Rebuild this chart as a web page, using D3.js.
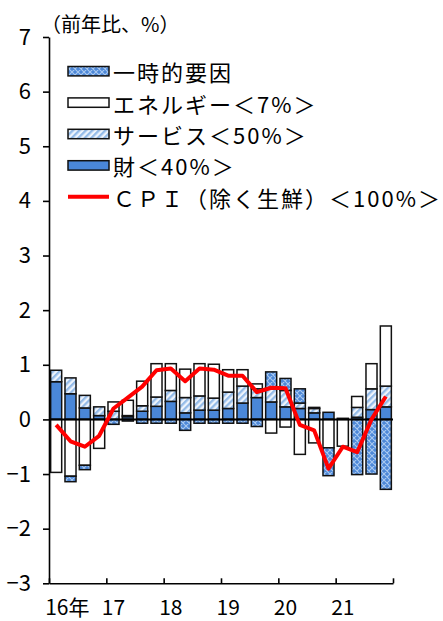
<!DOCTYPE html>
<html><head><meta charset="utf-8">
<script src="https://cdn.jsdelivr.net/npm/d3@7"></script>
<style>
html,body{margin:0;padding:0;background:#fff;}
text{font-family:"Noto Sans CJK JP","Noto Sans",sans-serif;fill:#000;}
</style></head>
<body><svg id="c" width="443" height="621"></svg>
<script>
const quarters = ["16Q1","16Q2","16Q3","16Q4","17Q1","17Q2","17Q3","17Q4","18Q1","18Q2","18Q3","18Q4","19Q1","19Q2","19Q3","19Q4","20Q1","20Q2","20Q3","20Q4","21Q1","21Q2","21Q3","21Q4"];
const yearLabels = ["16年","17","18","19","20","21"];
const goods    = [0.69,0.47,0.21,0.07, 0.00,0.05,0.15,0.24, 0.33,0.12,0.17,0.17, 0.20,0.30,0.40,0.32, 0.23,0.20,0.12,0.13, 0.02,0.04,0.18,0.23];
const services = [0.21,0.29,0.23,0.16, 0.15,0.02,0.10,0.17, 0.20,0.28,0.26,0.22, 0.30,0.31,0.16,0.26, 0.30,0.10,0.08,0.00, 0.00,0.18,0.38,0.38];
const energy   = [-0.97,-1.04,-0.84,-0.53, 0.17,0.28,0.45,0.61, 0.49,0.52,0.59,0.62, 0.41,0.30,0.09,-0.25, -0.14,-0.64,-0.43,-0.52, -0.49,0.20,0.46,1.10];
const temp     = [0.00,-0.10,-0.08,0.00, -0.09,-0.03,-0.07,-0.07, -0.07,-0.20,-0.07,-0.07, -0.07,-0.07,-0.13,0.29, 0.22,0.26,0.02,-0.51, 0.00,-1.01,-1.00,-1.28];
const cpi      = [-0.1,-0.4,-0.5,-0.3, 0.2,0.4,0.6,0.9, 0.93,0.7,0.93,0.91, 0.8,0.8,0.5,0.58, 0.57,-0.1,-0.2,-0.9, -0.5,-0.6,0.0,0.42];
const yTicks = [-3,-2,-1,0,1,2,3,4,5,6,7];
const seriesKeys = ["goods","services","energy","temp"];
const legendLabels = ["一時的要因","エネルギー＜7%＞","サービス＜50%＞","財＜40%＞","ＣＰＩ（除く生鮮）＜100%＞"];
const legendKeys = ["temp","energy","services","goods","cpi"];

const svg = d3.select("#c");
const defs = svg.append("defs");
const ps = defs.append("pattern").attr("id","pSvc").attr("patternUnits","userSpaceOnUse")
  .attr("width",4.6).attr("height",4.6).attr("patternTransform","rotate(45)");
ps.append("rect").attr("width",4.6).attr("height",4.6).attr("fill","#eef4fc");
ps.append("rect").attr("width",2.3).attr("height",4.6).attr("fill","#94bbe8");
const pt = defs.append("pattern").attr("id","pTmp").attr("patternUnits","userSpaceOnUse")
  .attr("width",6).attr("height",6);
pt.append("rect").attr("width",6).attr("height",6).attr("fill","#4d88d8");
pt.append("path").attr("d","M0,0L6,6M6,0L0,6M-1,5L1,7M5,-1L7,1M-1,1L1,-1M5,7L7,5")
  .attr("stroke","#a9c9f0").attr("stroke-width",1.1).attr("fill","none");

const fills = {goods:"#4a87d8", services:"url(#pSvc)", energy:"#ffffff", temp:"url(#pTmp)"};

const x0 = 49, x1 = 393;
const x = d3.scaleBand().domain(quarters).range([x0,x1]).paddingInner(0.23).paddingOuter(0.115);
const xl = d3.scaleLinear().domain([0,quarters.length]).range([x0,x1]);
const y = d3.scaleLinear().domain([-3,7]).range([583.3,37]);

const rows = quarters.map((q,i)=>({q, goods:goods[i], services:services[i], energy:energy[i], temp:temp[i]}));
const stack = d3.stack().keys(seriesKeys).offset(d3.stackOffsetDiverging)(rows);

stack.forEach(layer=>{
  svg.append("g").selectAll("rect").data(layer.filter(d=>Math.abs(d[1]-d[0])>0.005)).join("rect")
    .attr("x",d=>x(d.data.q)).attr("width",x.bandwidth())
    .attr("y",d=>y(Math.max(d[0],d[1]))).attr("height",d=>Math.abs(y(d[0])-y(d[1])))
    .attr("fill",fills[layer.key]).attr("stroke","#111").attr("stroke-width",1.5);
});

// zero line
svg.append("line").attr("x1",x0).attr("x2",x1).attr("y1",y(0)).attr("y2",y(0))
  .attr("stroke","#000").attr("stroke-width",2);

// CPI line
const line = d3.line().x((d,i)=>x(quarters[i])+x.bandwidth()/2).y(d=>y(d));
svg.append("path").datum(cpi).attr("d",line).attr("fill","none")
  .attr("stroke","#ff0000").attr("stroke-width",4).attr("stroke-linejoin","round");

// y axis
const ya = svg.append("g").attr("transform",`translate(${x0},0)`)
  .call(d3.axisLeft(y).tickValues(yTicks).tickSize(6).tickSizeOuter(0).tickPadding(12)
    .tickFormat(d=> d<0 ? "−"+Math.abs(d) : String(d)));
ya.selectAll("path,line").attr("stroke","#000").attr("stroke-width",1.6);
ya.selectAll("text").attr("font-size",22).attr("font-family","\"Noto Sans CJK JP\",sans-serif").attr("fill","#000");

// x axis
const xa = svg.append("g").attr("transform",`translate(0,${y(-3)})`)
  .call(d3.axisBottom(xl).tickValues(d3.range(0,quarters.length+1,4)).tickSize(-5).tickSizeOuter(0).tickFormat(""));
xa.selectAll("path,line").attr("stroke","#000").attr("stroke-width",1.6);

// year labels
yearLabels.forEach((lab,k)=>{
  const cx = x(quarters[k*4]) + x.bandwidth()/2;
  const t = svg.append("text").attr("y",615).attr("font-size",21).text(lab);
  if(k===0){ t.attr("x",cx-11).attr("text-anchor","start"); }
  else { t.attr("x",cx).attr("text-anchor","middle"); }
});

// title
svg.append("text").attr("x",41).attr("y",32).attr("font-size",20).text("（前年比、%）");

// legend
const lg = svg.append("g");
legendKeys.forEach((k,i)=>{
  const cy = 71.2 + i*31.4;
  if(k==="cpi"){
    lg.append("line").attr("x1",68).attr("x2",109).attr("y1",cy).attr("y2",cy)
      .attr("stroke","#ff0000").attr("stroke-width",4);
  } else {
    lg.append("rect").attr("x",68).attr("y",cy-4.7).attr("width",41).attr("height",9.4)
      .attr("fill",fills[k]).attr("stroke","#111").attr("stroke-width",1.5);
  }
  lg.append("text").attr("x",113).attr("y",cy+10).attr("font-size",22)
    .attr("letter-spacing",2).text(legendLabels[i]);
});
</script></body></html>
